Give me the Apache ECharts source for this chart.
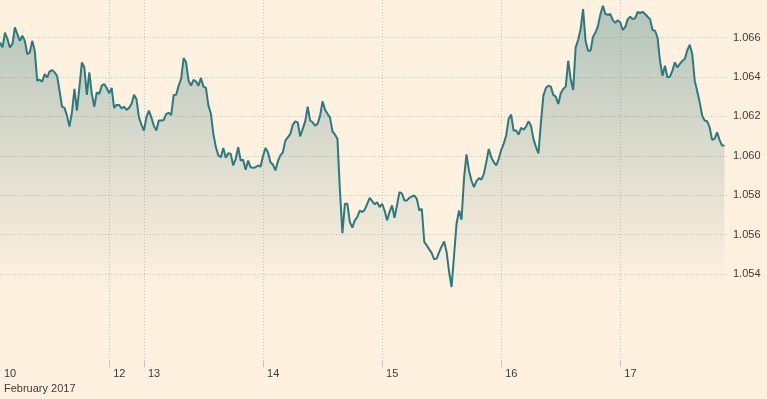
<!DOCTYPE html>
<html>
<head>
<meta charset="utf-8">
<script src="https://cdn.jsdelivr.net/npm/echarts@6/dist/echarts.min.js"></script>
<style>
  html, body { margin: 0; padding: 0; background: #fff1e0; }
  #chart { width: 767px; height: 399px; }
</style>
</head>
<body>
<div id="chart"></div>
<script>
// trading sessions shown on the axis (weekend compressed), 30 minute steps
var dayLabels = ['10', '12', '13', '14', '15', '16', '17']
var sessionOpenSlot = [0, 34, 0, 0, 0, 0, 0] // half-hour slot of first point
var sessionSlots = [44, 14, 48, 48, 48, 48, 44]
var monthLabel = 'February 2017'

// EUR/USD, one value per 30 minutes
var rates = [
  1.06575, 1.06550, 1.06625, 1.06592, 1.06550, 1.06567, 1.06651, 1.06617, 1.06583, 1.06609,
  1.06583, 1.06516, 1.06524, 1.06583, 1.06533, 1.06381, 1.06386, 1.06376, 1.06415, 1.06398,
  1.06428, 1.06435, 1.06423, 1.06406, 1.06330, 1.06249, 1.06243, 1.06204, 1.06148, 1.06221,
  1.06339, 1.06229, 1.06347, 1.06474, 1.06448, 1.06309, 1.06423, 1.06314, 1.06249, 1.06322,
  1.06314, 1.06356, 1.06364, 1.06344, 1.06317, 1.06344, 1.06243, 1.06258, 1.06258, 1.06241,
  1.06249, 1.06233, 1.06243, 1.06263, 1.06309, 1.06288, 1.06195, 1.06158, 1.06128, 1.06195,
  1.06229, 1.06195, 1.06153, 1.06128, 1.06179, 1.06179, 1.06182, 1.06213, 1.06218, 1.06207,
  1.06309, 1.06310, 1.06356, 1.06390, 1.06496, 1.06474, 1.06381, 1.06356, 1.06385, 1.06377,
  1.06356, 1.06395, 1.06351, 1.06344, 1.06255, 1.06213, 1.06111, 1.06044, 1.06002, 1.05993,
  1.06040, 1.05990, 1.06013, 1.06010, 1.05951, 1.05985, 1.06044, 1.05976, 1.05980, 1.05929,
  1.05976, 1.05942, 1.05939, 1.05942, 1.05951, 1.05945, 1.06000, 1.06040, 1.06018, 1.05968,
  1.05956, 1.05926, 1.05973, 1.06002, 1.06018, 1.06077, 1.06094, 1.06111, 1.06158, 1.06175,
  1.06170, 1.06099, 1.06137, 1.06175, 1.06249, 1.06179, 1.06170, 1.06153, 1.06162, 1.06204,
  1.06276, 1.06233, 1.06213, 1.06195, 1.06124, 1.06108, 1.06086, 1.05824, 1.05608, 1.05757,
  1.05757, 1.05664, 1.05636, 1.05673, 1.05689, 1.05723, 1.05715, 1.05727, 1.05757, 1.05787,
  1.05770, 1.05754, 1.05765, 1.05740, 1.05757, 1.05723, 1.05673, 1.05715, 1.05749, 1.05686,
  1.05749, 1.05816, 1.05808, 1.05774, 1.05774, 1.05787, 1.05794, 1.05799, 1.05782, 1.05723,
  1.05732, 1.05563, 1.05546, 1.05526, 1.05507, 1.05475, 1.05479, 1.05512, 1.05541, 1.05566,
  1.05512, 1.05411, 1.05335, 1.05496, 1.05656, 1.05723, 1.05676, 1.05884, 1.06007, 1.05926,
  1.05875, 1.05841, 1.05871, 1.05887, 1.05879, 1.05909, 1.05968, 1.06035, 1.05993, 1.05968,
  1.05951, 1.05985, 1.06030, 1.06061, 1.06103, 1.06187, 1.06209, 1.06128, 1.06128, 1.06108,
  1.06142, 1.06132, 1.06148, 1.06175, 1.06153, 1.06086, 1.06045, 1.06012, 1.06168, 1.06305,
  1.06344, 1.06356, 1.06351, 1.06309, 1.06300, 1.06263, 1.06317, 1.06339, 1.06351, 1.06482,
  1.06390, 1.06334, 1.06550, 1.06587, 1.06643, 1.06744, 1.06583, 1.06533, 1.06533, 1.06604,
  1.06625, 1.06659, 1.06719, 1.06761, 1.06719, 1.06715, 1.06719, 1.06688, 1.06674, 1.06688,
  1.06676, 1.06638, 1.06654, 1.06693, 1.06706, 1.06693, 1.06698, 1.06730, 1.06724, 1.06730,
  1.06719, 1.06705, 1.06693, 1.06638, 1.06634, 1.06600, 1.06482, 1.06406, 1.06457, 1.06398,
  1.06401, 1.06432, 1.06474, 1.06448, 1.06466, 1.06482, 1.06491, 1.06536, 1.06563, 1.06516,
  1.06381, 1.06327, 1.06271, 1.06204, 1.06179, 1.06175, 1.06145, 1.06081, 1.06086, 1.06119,
  1.06081, 1.06052, 1.06052
]

var yTicks = [1.054, 1.056, 1.058, 1.060, 1.062, 1.064, 1.066]

// build category times and the index where each day starts
var times = []
var dayStart = {}
dayLabels.forEach(function (day, d) {
  for (var k = 0; k < sessionSlots[d]; k++) {
    var slot = sessionOpenSlot[d] + k
    var hh = String(Math.floor(slot / 2)).padStart(2, '0')
    var mm = slot % 2 ? '30' : '00'
    if (k === 0) dayStart[times.length] = day
    times.push('Feb ' + day + ' ' + hh + ':' + mm)
  }
})

function isDayStart (index) {
  return dayStart[index] !== undefined
}
// no gridline / tick on the left edge
function isInnerDayStart (index) {
  return index > 0 && isDayStart(index)
}

var gridColor = '#cdc3b8'
var textColor = '#3d3a37'
var lineColor = '#2a7a80'

var chart = echarts.init(document.getElementById('chart'))
chart.setOption({
  backgroundColor: '#fff1e0',
  animation: false,
  grid: { left: 0, right: 40, top: 0, bottom: 38, containLabel: false, outerBoundsMode: 'none' },
  xAxis: {
    type: 'category',
    data: times,
    boundaryGap: false,
    axisLine: { show: false },
    axisTick: {
      show: true,
      interval: isInnerDayStart,
      length: 6,
      lineStyle: { color: gridColor, width: 1 }
    },
    splitLine: {
      show: true,
      interval: isInnerDayStart,
      lineStyle: { color: gridColor, width: 1, type: [1, 2] }
    },
    axisLabel: {
      interval: isDayStart,
      hideOverlap: false,
      showMinLabel: true,
      align: 'left',
      margin: 5,
      padding: [0, 0, 0, 4],
      fontFamily: 'Liberation Sans, Arial, sans-serif',
      fontSize: 11,
      lineHeight: 15,
      color: textColor,
      formatter: function (value, index) {
        var day = dayStart[index]
        if (day === undefined) return ''
        return index === 0 ? day + '\n' + monthLabel : day
      }
    }
  },
  yAxis: {
    type: 'value',
    position: 'right',
    min: 1.0496,
    max: 1.0679,
    axisLine: { show: false },
    axisTick: { show: false, customValues: yTicks },
    splitLine: {
      show: true,
      lineStyle: { color: gridColor, width: 1, type: [1, 2] }
    },
    axisLabel: {
      customValues: yTicks,
      margin: 6,
      fontFamily: 'Liberation Sans, Arial, sans-serif',
      fontSize: 11,
      color: textColor,
      formatter: function (v) { return v.toFixed(3) }
    }
  },
  series: [
    {
      name: 'EUR/USD',
      type: 'line',
      data: rates,
      symbol: 'none',
      smooth: false,
      lineStyle: { color: lineColor, width: 2 },
      areaStyle: {
        origin: 'start',
        color: {
          type: 'linear',
          x: 0,
          y: 0,
          x2: 0,
          y2: 1,
          colorStops: [
            { offset: 0, color: 'rgba(45,115,115,0.5)' },
            { offset: 0.8, color: 'rgba(45,115,115,0)' }
          ]
        }
      }
    }
  ]
})
</script>
</body>
</html>
